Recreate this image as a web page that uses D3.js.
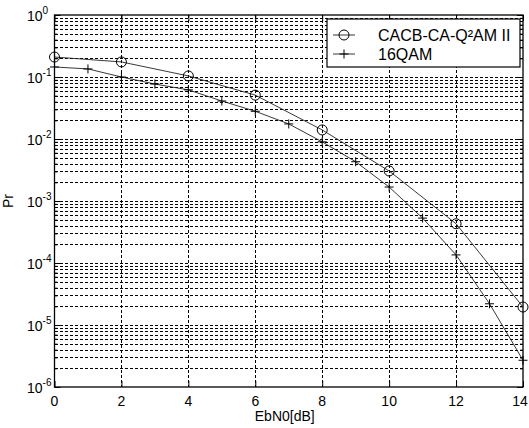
<!DOCTYPE html>
<html>
<head>
<meta charset="utf-8">
<script src="https://cdn.jsdelivr.net/npm/d3@7"></script>
<style>
body { margin: 0; background: #fff; }
text { font-family: "Liberation Sans", Arial, sans-serif; fill: #000; }
</style>
</head>
<body>
<div id="chart"></div>
<script>
// data
var ebnoCacb = [0, 2, 4, 6, 8, 10, 12, 14];
var prCacb = [0.21, 0.175, 0.104, 0.051, 0.014, 0.00305, 0.00043, 1.95e-5];
var ebno16 = [0, 1, 2, 3, 4, 5, 6, 7, 8, 9, 10, 11, 12, 13, 14];
var pr16 = [0.145, 0.135, 0.1, 0.077, 0.062, 0.041, 0.028, 0.0175, 0.009, 0.0043, 0.00168, 0.00053, 0.000135, 2.2e-5, 2.7e-6];
var xTicks = [0, 2, 4, 6, 8, 10, 12, 14];
var yExps = [0, -1, -2, -3, -4, -5, -6];
var legendNames = ["CACB-CA-Q\u00b2AM II", "16QAM"];

var W = 529, H = 428;
// plot box (window.top is reserved, so use pTop etc.)
var pLeft = 54.5, pRight = 523, pTop = 15, pBottom = 387;

var x = d3.scaleLinear().domain([0, 14]).range([pLeft, pRight]);
var y = d3.scaleLog().domain([1e-6, 1]).range([pBottom, pTop]);

var svg = d3.select("#chart").append("svg")
    .attr("width", W)
    .attr("height", H);

// all log grid values
var majorVals = yExps.map(function(e){ return Math.pow(10, e); });
var minorVals = [];
for (var e = -6; e < 0; e++) {
    for (var k = 2; k <= 9; k++) minorVals.push(k * Math.pow(10, e));
}

// grid
var grid = svg.append("g")
    .attr("stroke", "#000")
    .attr("stroke-width", 1)
    .attr("stroke-dasharray", "3,2")
    .attr("shape-rendering", "crispEdges");
grid.selectAll("line.h")
    .data(majorVals.concat(minorVals).filter(function(v){ return v > 1.5e-6 && v < 0.99; }))
    .enter().append("line")
    .attr("class", "h")
    .attr("x1", pLeft).attr("x2", pRight)
    .attr("y1", function(d){ return Math.round(y(d)) + 0.5; })
    .attr("y2", function(d){ return Math.round(y(d)) + 0.5; });
grid.selectAll("line.v")
    .data(xTicks.filter(function(v){ return v > 0 && v < 14; }))
    .enter().append("line")
    .attr("class", "v")
    .attr("y1", pTop).attr("y2", pBottom)
    .attr("x1", function(d){ return Math.round(x(d)) + 0.5; })
    .attr("x2", function(d){ return Math.round(x(d)) + 0.5; });

// axes with inward ticks
function noText(g){ g.selectAll("text").remove(); g.select(".domain").remove(); }
svg.append("g").attr("transform", "translate(" + pLeft + ",0)")
    .call(d3.axisLeft(y).tickValues(majorVals).tickSize(-6)).call(noText);
svg.append("g").attr("transform", "translate(" + pLeft + ",0)")
    .call(d3.axisLeft(y).tickValues(minorVals).tickSize(-3)).call(noText);
svg.append("g").attr("transform", "translate(" + pRight + ",0)")
    .call(d3.axisRight(y).tickValues(majorVals).tickSize(-6)).call(noText);
svg.append("g").attr("transform", "translate(" + pRight + ",0)")
    .call(d3.axisRight(y).tickValues(minorVals).tickSize(-3)).call(noText);
svg.append("g").attr("transform", "translate(0," + pBottom + ")")
    .call(d3.axisBottom(x).tickValues(xTicks).tickSize(-6)).call(noText);
svg.append("g").attr("transform", "translate(0," + pTop + ")")
    .call(d3.axisTop(x).tickValues(xTicks).tickSize(-6)).call(noText);

svg.append("rect")
    .attr("x", pLeft).attr("y", pTop)
    .attr("width", pRight - pLeft).attr("height", pBottom - pTop)
    .attr("fill", "none").attr("stroke", "#000").attr("stroke-width", 1.3);

// x tick labels (last one kept inside the window)
svg.selectAll("text.xt")
    .data(xTicks)
    .enter().append("text")
    .attr("class", "xt")
    .attr("x", function(d){ return Math.min(x(d), W - 9); })
    .attr("y", pBottom + 19)
    .attr("text-anchor", "middle")
    .attr("font-size", 14)
    .text(function(d){ return d; });

// y tick labels 10^e
var yl = svg.selectAll("text.yt")
    .data(yExps)
    .enter().append("text")
    .attr("class", "yt")
    .attr("x", 27)
    .attr("y", function(d){ return y(Math.pow(10, d)) + 6; })
    .attr("font-size", 14);
yl.append("tspan").text("10");
yl.append("tspan").attr("dy", -7).attr("font-size", 10)
    .text(function(d){ return d === 0 ? "0" : "-" + Math.abs(d); });

// axis titles
svg.append("text")
    .attr("x", (pLeft + pRight) / 2 - 4)
    .attr("y", 421)
    .attr("text-anchor", "middle")
    .attr("font-size", 14)
    .text("EbN0[dB]");
svg.append("text")
    .attr("transform", "translate(13," + ((pTop + pBottom) / 2) + ") rotate(-90)")
    .attr("text-anchor", "middle")
    .attr("font-size", 14)
    .text("Pr");

// curves
var line = d3.line()
    .x(function(d){ return x(d[0]); })
    .y(function(d){ return y(d[1]); });
var dCacb = d3.zip(ebnoCacb, prCacb);
var d16 = d3.zip(ebno16, pr16);

svg.append("path").datum(dCacb).attr("d", line)
    .attr("fill", "none").attr("stroke", "#222").attr("stroke-width", 0.9);
svg.append("path").datum(d16).attr("d", line)
    .attr("fill", "none").attr("stroke", "#222").attr("stroke-width", 0.9);

svg.selectAll("circle.m")
    .data(dCacb)
    .enter().append("circle")
    .attr("class", "m")
    .attr("cx", function(d){ return x(d[0]); })
    .attr("cy", function(d){ return y(d[1]); })
    .attr("r", 5)
    .attr("fill", "none").attr("stroke", "#000").attr("stroke-width", 1);

svg.selectAll("path.plus")
    .data(d16)
    .enter().append("path")
    .attr("class", "plus")
    .attr("d", function(d){
        var cx = x(d[0]), cy = y(d[1]), s = 4.5;
        return "M" + (cx - s) + "," + cy + "H" + (cx + s) + "M" + cx + "," + (cy - s) + "V" + (cy + s);
    })
    .attr("stroke", "#000").attr("stroke-width", 1);

// legend
var lg = svg.append("g").attr("transform", "translate(327,19)");
lg.append("rect")
    .attr("width", 193).attr("height", 48)
    .attr("fill", "#fff").attr("stroke", "#000").attr("stroke-width", 1.2);
var rows = lg.selectAll("g.row")
    .data(legendNames)
    .enter().append("g")
    .attr("class", "row")
    .attr("transform", function(d, i){ return "translate(0," + (16 + i * 19) + ")"; });
rows.append("line")
    .attr("x1", 6).attr("x2", 28)
    .attr("stroke", "#222").attr("stroke-width", 0.9);
rows.filter(function(d, i){ return i === 0; }).append("circle")
    .attr("cx", 17).attr("r", 5)
    .attr("fill", "none").attr("stroke", "#000");
rows.filter(function(d, i){ return i === 1; }).append("path")
    .attr("d", "M12.5,0H21.5M17,-4.5V4.5")
    .attr("stroke", "#000");
rows.append("text")
    .attr("x", 51).attr("y", 6)
    .attr("font-size", 16)
    .text(function(d){ return d; });
</script>
</body>
</html>
